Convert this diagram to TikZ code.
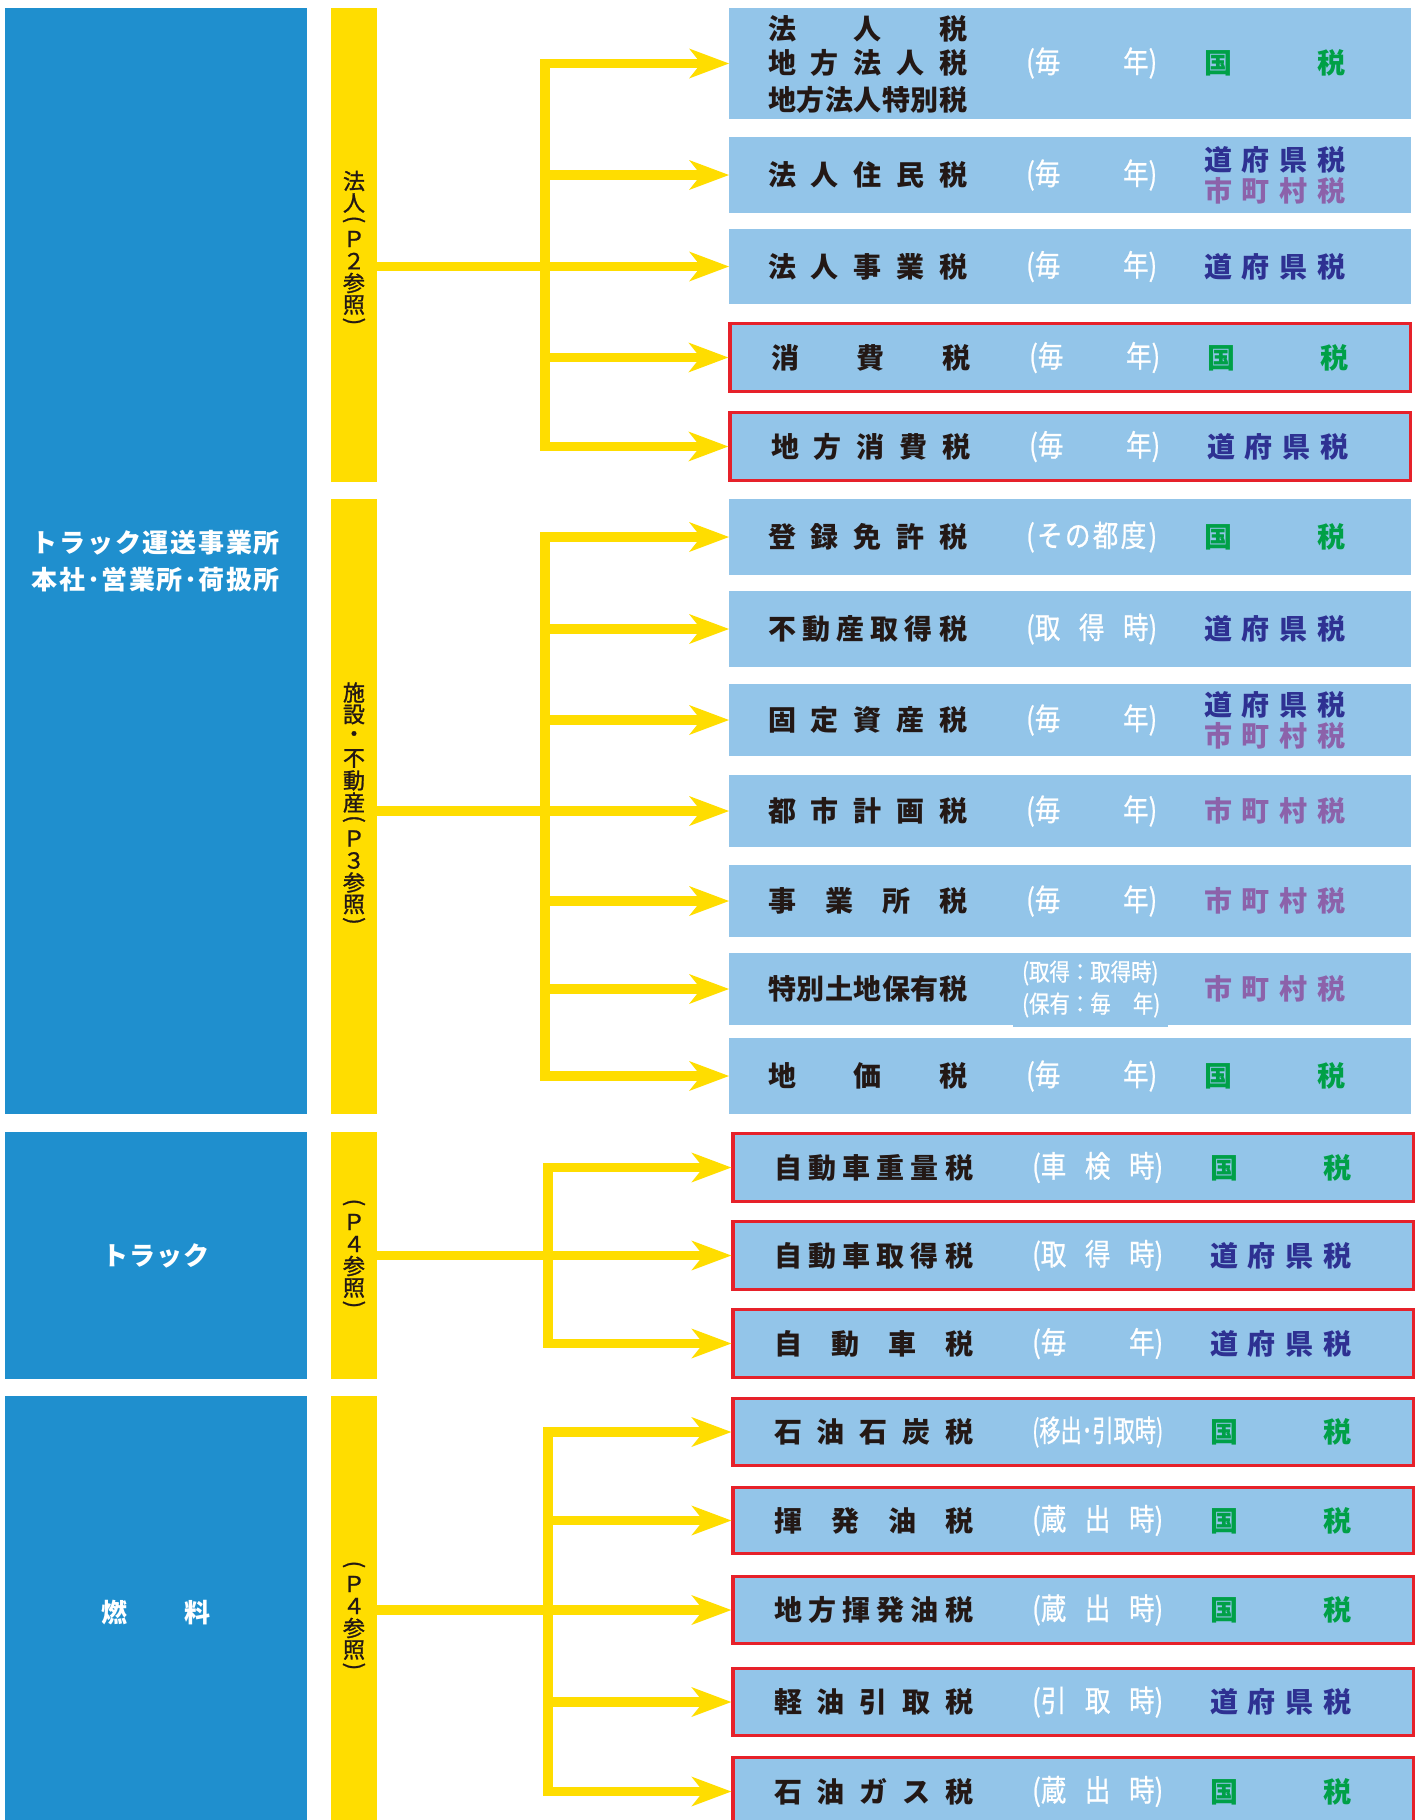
\documentclass[tikz,border=0pt]{standalone}
\usepackage{fontspec}
\usepackage{graphicx}
\usetikzlibrary{arrows.meta}
\newfontfamily\jp{Noto Sans CJK JP}
\newfontfamily\jpm{Noto Sans CJK JP}[FakeBold=1.2]
\newfontfamily\jpc{Noto Sans CJK JP}[FakeStretch=0.85,FakeBold=0.8]
\definecolor{cbig}{HTML}{1F8FCE}
\definecolor{clb}{HTML}{93C5E9}
\definecolor{cyl}{HTML}{FFDD00}
\definecolor{crd}{HTML}{E6212A}
\definecolor{cgr}{HTML}{00A047}
\definecolor{cnv}{HTML}{2E3192}
\definecolor{cpu}{HTML}{8C62AA}
\definecolor{ctx}{HTML}{231815}

\ExplSyntaxOn
\bool_new:N \l__sp_first_bool
\NewDocumentCommand \spread { m m }
  {
    \makebox[#1][s]
      {
        \bool_set_true:N \l__sp_first_bool
        \tl_map_inline:nn {#2}
          {
            \bool_if:NF \l__sp_first_bool { \hfill }
            ##1
            \bool_set_false:N \l__sp_first_bool
          }
      }
  }
\ExplSyntaxOff

\newcommand\vrw[2]{\hbox to 24bp{\hss\vbox to #1{\vss\hbox{#2}\vss}\hss}}
\newcommand\vparo{\vrw{14bp}{\rotatebox[origin=c]{-90}{(}}}
\newcommand\vparc{\vrw{14bp}{\rotatebox[origin=c]{-90}{)}}}
\newcommand\vch[1]{\vrw{22bp}{#1}}

\newcommand\kokuzei{\textcolor{cgr}{\spread{141bp}{国税}}}
\newcommand\dofuken{\textcolor{cnv}{\spread{141bp}{道府県税}}}
\newcommand\shichoson{\textcolor{cpu}{\spread{141bp}{市町村税}}}
\newcommand\maitoshi{\spread{131bp}{{(毎}{年)}}}

\newcommand\trow[9]{%
  \pgfmathsetmacro\tym{(#4+#5)/2}%
  \pgfmathsetmacro\tyh{#5-#4}%
  \node[#2, minimum height=\tyh bp] (#1) at (#3,\tym) {};
  \node[taxname] (#1-n) at (768+#6,\tym) {\spread{199bp}{#7}};
  \node[taxpar] (#1-p) at (1026+#6,\tym) {#8};
  \node[taxright] (#1-r) at (1204+#6,\tym) {#9};
}

\begin{document}
\begin{tikzpicture}[x=1bp,y=-1bp,
  tbox/.style={fill=clb, minimum width=682bp, inner sep=0pt, outer sep=0pt},
  tboxr/.style={fill=clb, draw=crd, line width=3.4bp, minimum width=680.5bp, inner sep=0pt},
  taxname/.style={anchor=west, inner sep=0pt, text=ctx, align=left, font=\jp\bfseries\fontsize{28bp}{35.5bp}\selectfont},
  taxpar/.style={anchor=west, inner sep=0pt, text=white, align=left, font=\jpc\fontsize{30bp}{32bp}\selectfont},
  taxright/.style={anchor=west, inner sep=0pt, align=left, font=\jp\bfseries\fontsize{28bp}{31bp}\selectfont},
  bigbox/.style={fill=cbig, minimum width=302bp, inner sep=0pt, text=white, align=center, font=\jp\bfseries\fontsize{26bp}{37.5bp}\selectfont},
  ybar/.style={fill=cyl, minimum width=46bp, inner sep=0pt},
  vtext/.style={inner sep=0pt, text=ctx, font=\jpm\fontsize{22bp}{22bp}\selectfont},
  yarr/.style={draw=cyl, line width=9.5bp, -{Stealth[length=40bp,width=30bp,inset=12bp,line width=0bp]}},
  ybus/.style={draw=cyl, line width=9.5bp, line cap=rect}]
\useasboundingbox (0,0) rectangle (1422,1820);
\clip (0,0) rectangle (1422,1820);
\fill[white] (0,0) rectangle (1422,1820);

% left blue boxes
\node[bigbox, minimum height=1106bp] (B1) at (156,561) {\spread{248bp}{トラック運送事業所}\\\spread{248bp}{本社･営業所･荷扱所}};
\node[bigbox, minimum height=247bp] (B2) at (156,1255.5) {\spread{108bp}{トラック}};
\node[bigbox, minimum height=434bp] (B3) at (156,1613) {\spread{110bp}{燃料}};

% yellow bars
\node[ybar, minimum height=474bp] (Y1) at (354,245) {};
\node[ybar, minimum height=615bp] (Y2) at (354,806.5) {};
\node[ybar, minimum height=247bp] (Y3) at (354,1255.5) {};
\node[ybar, minimum height=434bp] (Y4) at (354,1613) {};
\node[vtext] (Y1t) at (354,250) {\vbox{\offinterlineskip\vch{法}\vch{人}\vparo\vch{Ｐ}\vch{２}\vch{参}\vch{照}\vparc}};
\node[vtext] (Y2t) at (354,805.5) {\vbox{\offinterlineskip\vch{施}\vch{設}\vch{・}\vch{不}\vch{動}\vch{産}\vparo\vch{Ｐ}\vch{３}\vch{参}\vch{照}\vparc}};
\node[vtext] (Y3t) at (354,1255) {\vbox{\offinterlineskip\vparo\vch{Ｐ}\vch{４}\vch{参}\vch{照}\vparc}};
\node[vtext] (Y4t) at (354,1617) {\vbox{\offinterlineskip\vparo\vch{Ｐ}\vch{４}\vch{参}\vch{照}\vparc}};

% section 1
\node[tbox, minimum height=111bp] (t1) at (1070,63.5) {};
\node[taxname] (t1-n1) at (768,29) {\spread{199bp}{法人税}};
\node[taxname] (t1-n2) at (768,63) {\spread{199bp}{地方法人税}};
\node[taxname] (t1-n3) at (768,100) {\spread{199bp}{地方法人特別税}};
\node[taxpar] (t1-p) at (1026,63) {\maitoshi};
\node[taxright] (t1-r) at (1204,63) {\kokuzei};
\trow{t2}{tbox}{1070}{137}{213}{0}{法人住民税}{\maitoshi}{\dofuken\\\shichoson}
\trow{t3}{tbox}{1070}{229}{304}{0}{法人事業税}{\maitoshi}{\dofuken}
\trow{t4}{tboxr}{1070.25}{323.7}{391.3}{3}{消費税}{\maitoshi}{\kokuzei}
\trow{t5}{tboxr}{1070.25}{412.7}{480.3}{3}{地方消費税}{\maitoshi}{\dofuken}

% section 2
\trow{t6}{tbox}{1070}{499}{575}{0}{登録免許税}{\spread{131bp}{{(}{そ}{の}{都}{度}{)}}}{\kokuzei}
\trow{t7}{tbox}{1070}{591}{667}{0}{不動産取得税}{\spread{131bp}{{(取}{得}{時)}}}{\dofuken}
\trow{t8}{tbox}{1070}{684}{756}{0}{固定資産税}{\maitoshi}{\dofuken\\\shichoson}
\trow{t9}{tbox}{1070}{775}{847}{0}{都市計画税}{\maitoshi}{\shichoson}
\trow{t10}{tbox}{1070}{865}{937}{0}{事業所税}{\maitoshi}{\shichoson}
\node[tbox, minimum height=72bp] (t11) at (1070,989) {};
\fill[clb] (1013,1020) rectangle (1168,1027);
\node[taxname] (t11-n) at (768,989) {\spread{199bp}{特別土地保有税}};
\node[taxpar, font=\jpc\fontsize{24bp}{32bp}\selectfont] (t11-p) at (1022,989) {(取得：取得時)\\\makebox[138bp][s]{(保有：毎\hfill 年)}};
\node[taxright] (t11-r) at (1204,989) {\shichoson};
\trow{t12}{tbox}{1070}{1038}{1114}{0}{地価税}{\maitoshi}{\kokuzei}

% section 3
\trow{t13}{tboxr}{1073.25}{1133.7}{1201.3}{6}{自動車重量税}{\spread{131bp}{{(車}{検}{時)}}}{\kokuzei}
\trow{t14}{tboxr}{1073.25}{1221.7}{1289.3}{6}{自動車取得税}{\spread{131bp}{{(取}{得}{時)}}}{\dofuken}
\trow{t15}{tboxr}{1073.25}{1309.7}{1377.3}{6}{自動車税}{\maitoshi}{\dofuken}

% section 4
\trow{t16}{tboxr}{1073.25}{1398.7}{1465.3}{6}{石油石炭税}{\resizebox{131bp}{\height}{(移出･引取時)}}{\kokuzei}
\trow{t17}{tboxr}{1073.25}{1487.7}{1553.3}{6}{揮発油税}{\spread{131bp}{{(蔵}{出}{時)}}}{\kokuzei}
\trow{t18}{tboxr}{1073.25}{1576.7}{1643.3}{6}{地方揮発油税}{\spread{131bp}{{(蔵}{出}{時)}}}{\kokuzei}
\trow{t19}{tboxr}{1073.25}{1668.7}{1735.3}{6}{軽油引取税}{\spread{131bp}{{(引}{取}{時)}}}{\dofuken}
\trow{t20}{tboxr}{1073.25}{1757.7}{1825.3}{6}{石油ガス税}{\spread{131bp}{{(蔵}{出}{時)}}}{\kokuzei}

% connectors
\coordinate (bus1) at (545,0);
\coordinate (bus2) at (545,0);
\coordinate (bus3) at (548,0);
\coordinate (bus4) at (548,0);

\draw[ybus] (bus1 |- t1.west) -- (bus1 |- t5.west);
\foreach \t in {t1,t2,t4,t5} \draw[yarr] (bus1 |- \t.west) -- (\t.west);
\draw[yarr] (Y1.east |- t3.west) -- (t3.west);

\draw[ybus] (bus2 |- t6.west) -- (bus2 |- t12.west);
\foreach \t in {t6,t7,t8,t10,t11,t12} \draw[yarr] (bus2 |- \t.west) -- (\t.west);
\draw[yarr] (Y2.east |- t9.west) -- (t9.west);

\draw[ybus] (bus3 |- t13.west) -- (bus3 |- t15.west);
\foreach \t in {t13,t15} \draw[yarr] (bus3 |- \t.west) -- (\t.west);
\draw[yarr] (Y3.east |- t14.west) -- (t14.west);

\draw[ybus] (bus4 |- t16.west) -- (bus4 |- t20.west);
\foreach \t in {t16,t17,t19,t20} \draw[yarr] (bus4 |- \t.west) -- (\t.west);
\draw[yarr] (Y4.east |- t18.west) -- (t18.west);
\end{tikzpicture}
\end{document}
